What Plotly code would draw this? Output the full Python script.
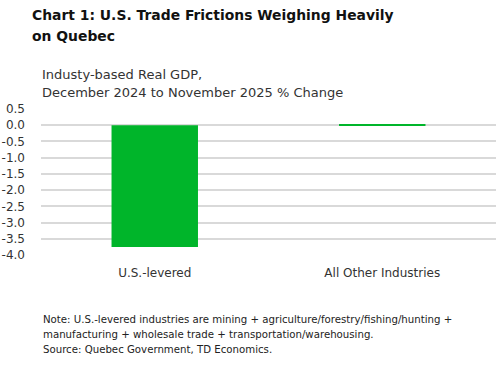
import plotly.graph_objects as go

categories = ["U.S.-levered", "All Other Industries"]
values = [-3.75, 0.04]
tick_vals = [0.5, 0.0, -0.5, -1.0, -1.5, -2.0, -2.5, -3.0, -3.5, -4.0]
tick_text = ["0.5", "0.0", "-0.5", "-1.0", "-1.5", "-2.0", "-2.5", "-3.0", "-3.5", "-4.0"]

title_lines = ["Chart 1: U.S. Trade Frictions Weighing Heavily", "on Quebec"]
subtitle_lines = ["Industy-based Real GDP,", "December 2024 to November 2025 % Change"]
note_lines = ["Note: U.S.-levered industries are mining + agriculture/forestry/fishing/hunting +",
              "manufacturing + wholesale trade + transportation/warehousing.",
              "Source: Quebec Government, TD Economics."]

FONT = "DejaVu Sans"
W, H = 496, 370
# plot area in window pixels: x 41..496, y 109..255
L, R, T = 41, 0, 109
B = H - 255

fig = go.Figure(go.Bar(x=categories, y=values,
                       marker=dict(color="#00B52A", line=dict(width=0)),
                       width=0.38))

pw = W - L - R
ph = H - T - B

def ax(p):  # window px -> paper x
    return (p - L) / pw

def ay(p):  # window px -> paper y
    return (H - B - p) / ph

fig.update_layout(
    width=W, height=H,
    margin=dict(l=L, r=R, t=T, b=B, pad=0, autoexpand=False),
    paper_bgcolor="white", plot_bgcolor="white",
    showlegend=False,
    font=dict(family=FONT, size=11, color="#222222"),
    xaxis=dict(showgrid=False, showline=False, ticks="", zeroline=False,
               automargin=False,
               tickfont=dict(family=FONT, size=12, color="#333333"),
               ticklabelstandoff=9, fixedrange=True),
    yaxis=dict(range=[-4.0, 0.5], tickvals=tick_vals, ticktext=tick_text,
               automargin=False,
               showgrid=True, gridcolor="#D9D9D9", gridwidth=1.5,
               zeroline=False, showline=False, ticks="",
               tickfont=dict(family=FONT, size=12, color="#333333"),
               ticklabelstandoff=15, fixedrange=True),
)

def add_line(text, x, yc, size, bold=False, color="#222222"):
    fig.add_annotation(text=f"<b>{text}</b>" if bold else text,
                       xref="paper", yref="paper", x=ax(x), y=ay(yc),
                       xanchor="left", yanchor="middle", align="left",
                       showarrow=False, borderpad=0,
                       font=dict(family=FONT, size=size, color=color))

for txt, yc in zip(title_lines, [15, 36]):
    add_line(txt, 31, yc, 13.9, bold=True, color="#111111")
for txt, yc in zip(subtitle_lines, [74, 92]):
    add_line(txt, 41, yc, 13, color="#333333")
for txt, yc in zip(note_lines, [319, 334, 349]):
    add_line(txt, 42, yc, 10.2, color="#222222")

fig.write_html("out.html", config={"displayModeBar": False},
               post_script="document.body.style.margin='0px';")
